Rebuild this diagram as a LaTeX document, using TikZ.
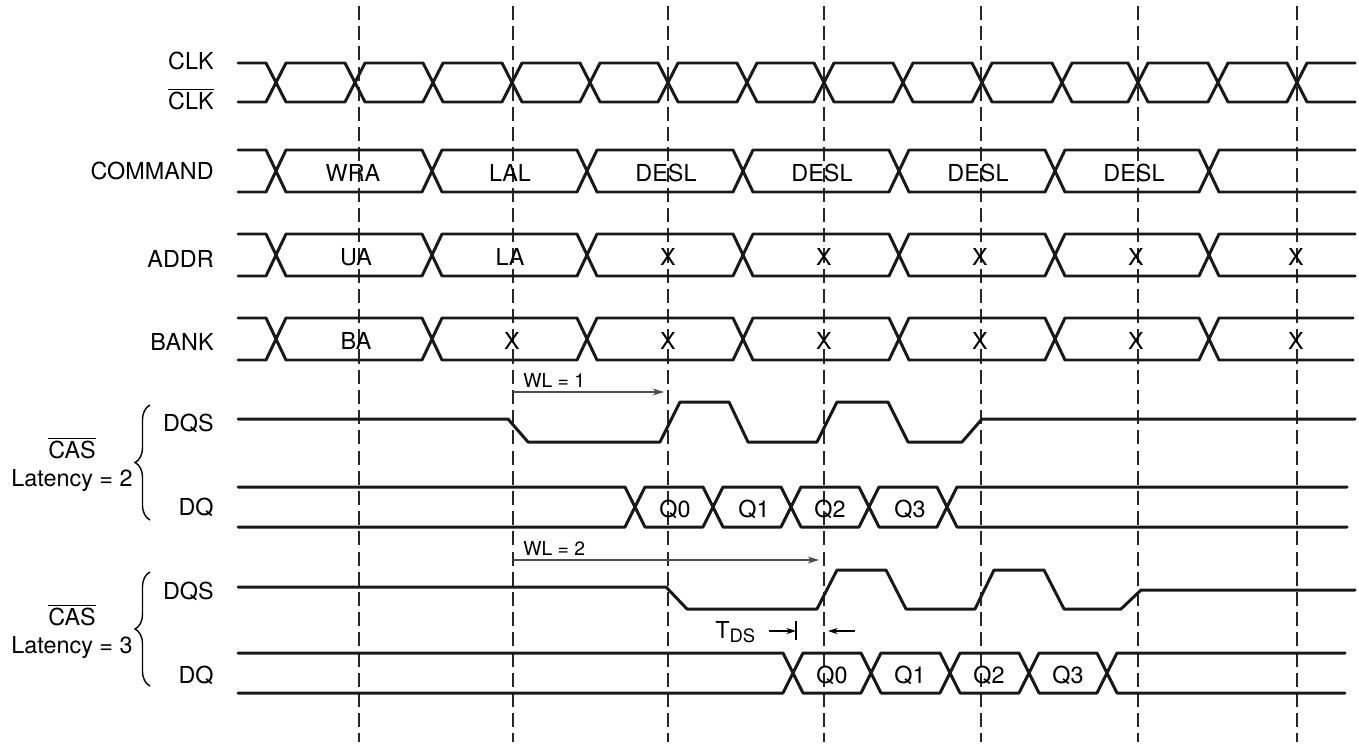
\documentclass[tikz,border=0pt]{standalone}
\usepackage{fontspec}
\setmainfont{TeX Gyre Heros}
\usetikzlibrary{arrows.meta,decorations.pathreplacing}

\tikzstyle{sig}=[line width=1.7pt, line cap=round, line join=round, black!90]
\tikzstyle{grid}=[line width=0.6pt, dash pattern=on 8pt off 3.5pt, black!85]
\tikzstyle{lbl}=[inner sep=0pt, anchor=base east, font=\fontsize{13.3}{16}\selectfont]
\tikzstyle{val}=[inner sep=0pt, anchor=base, font=\fontsize{13.3}{16}\selectfont]
\tikzstyle{wl}=[line width=0.7pt, black!70, -{Stealth[length=6.5pt,width=4pt]}]
\tikzstyle{tds}=[line width=0.7pt, -{Stealth[length=5.5pt,width=3.5pt]}]
\tikzstyle{cbrace}=[line width=0.8pt, decorate, decoration={brace,amplitude=0.3cm}]

\newcommand{\ovl}[1]{$\overline{\mbox{#1}}$}
% top, bottom, all crossings, last crossing, end
\newcommand{\sigwave}[5]{%
  \pgfmathsetmacro\ym{(#1+#2)/2}%
  \foreach \c [remember=\c as \p (initially 0)] in {#3}{%
    \ifdim\p pt=0pt
      \draw[sig] (238,#1) -- (\c-10,#1) -- (\c,\ym);
      \draw[sig] (238,#2) -- (\c-10,#2) -- (\c,\ym);
    \else
      \draw[sig] (\p,\ym) -- (\p+10,#1) -- (\c-10,#1) -- (\c,\ym);
      \draw[sig] (\p,\ym) -- (\p+10,#2) -- (\c-10,#2) -- (\c,\ym);
    \fi
  }%
  \draw[sig] (#4,\ym) -- (#4+10,#1) -- (#5,#1);
  \draw[sig] (#4,\ym) -- (#4+10,#2) -- (#5,#2);
}

\begin{document}
\begin{tikzpicture}[x=0.02cm, y=-0.02cm]
  \useasboundingbox (0,0) rectangle (1359,744);

  % clock edges
  \foreach \x in {359,513,668,824,981,1138,1297}
    \draw[grid] (\x,6) -- (\x,742);

  % signal names
  \node[lbl] (clk) at (214,69) {CLK};
  \node[lbl] (clkb) at (214,109) {\ovl{CLK}};
  \node[lbl] (cmd) at (214,179) {COMMAND};
  \node[lbl] (addr) at (214,267) {ADDR};
  \node[lbl] (bank) at (214,350) {BANK};
  \node[lbl] (dqs2) at (214,431) {DQS};
  \node[lbl] (dq2) at (214,515) {DQ};
  \node[lbl] (dqs3) at (214,599) {DQS};
  \node[lbl] (dq3) at (214,683) {DQ};
  \node[val] (cas2) at (72,458) {\ovl{CAS}};
  \node[val] (lat2) at (72,486) {Latency = 2};
  \node[val] (cas3) at (72,625) {\ovl{CAS}};
  \node[val] (lat3) at (72,653) {Latency = 3};
  \draw[cbrace] (150,520) -- (150,405);
  \draw[cbrace] (150,686) -- (150,572);

  % waveforms
  \sigwave{63}{102}{276,355,433,512,590,668,747,824,903,982,1062,1138,1218,1297}{1297}{1355}
  \sigwave{150}{192}{276,432,587,743,899,1055,1209}{1209}{1355}
  \sigwave{234}{276}{276,432,587,743,899,1055,1209}{1209}{1355}
  \sigwave{318}{360}{276,432,587,743,899,1055,1209}{1209}{1353}
  \sigwave{487}{527}{635,713,791,869,947}{947}{1347}
  \sigwave{653}{693}{793,871,950,1029,1107}{1107}{1345}

  \draw[sig] (238,419) -- (508,419) -- (528,442) -- (660,442) -- (680,402)
    -- (729,402) -- (748,442) -- (817,442) -- (837,402) -- (888,402)
    -- (908,442) -- (962,442) -- (982,419) -- (1355,419);
  \draw[sig] (238,587) -- (666,587) -- (687,609) -- (817,609) -- (837,570)
    -- (886,570) -- (906,609) -- (975,609) -- (994,570) -- (1044,570)
    -- (1064,609) -- (1121,609) -- (1141,590) -- (1355,590);

  % bus values
  \foreach \x/\t [count=\i] in {353/WRA,510/LAL,666/DESL,822/DESL,978/DESL,1134/DESL}
    \node[val] (cmd\i) at (\x,181) {\t};
  \foreach \x/\t [count=\i] in {356/UA,510/LA,668/X,824/X,980/X,1136/X,1296/X}
    \node[val] (addr\i) at (\x,265) {\t};
  \foreach \x/\t [count=\i] in {356/BA,512/X,668/X,824/X,980/X,1136/X,1296/X}
    \node[val] (bank\i) at (\x,349) {\t};
  \foreach \x/\t [count=\i] in {675/Q0,754/Q1,830/Q2,910/Q3}
    \node[val] (qa\i) at (\x,517) {\t};
  \foreach \x/\t [count=\i] in {832/Q0,910/Q1,989/Q2,1068/Q3}
    \node[val] (qb\i) at (\x,683) {\t};

  % write latency
  \node[inner sep=0pt, anchor=base west, font=\fontsize{11}{13}\selectfont] (wl1) at (523,387) {WL = 1};
  \coordinate (wl1s) at (513,392);
  \coordinate (wl1e) at (664,392);
  \draw[wl] (wl1s) -- (wl1e);
  \node[inner sep=0pt, anchor=base west, font=\fontsize{11}{13}\selectfont] (wl2) at (523,555) {WL = 2};
  \coordinate (wl2s) at (513,560);
  \coordinate (wl2e) at (819,560);
  \draw[wl] (wl2s) -- (wl2e);

  % setup time
  \node[inner sep=0pt, anchor=base west, font=\fontsize{13.3}{16}\selectfont] (tds) at (715,638)
    {T{\fontsize{10.5}{12}\selectfont\raisebox{-2.8pt}{DS}}};
  \coordinate (tdsa) at (769,631);
  \coordinate (tdsb) at (796,631);
  \coordinate (tdsc) at (855,631);
  \coordinate (tdsd) at (828,631);
  \draw[tds] (tdsa) -- (tdsb);
  \draw[line width=0.7pt] (796,621) -- (796,640);
  \draw[tds] (tdsc) -- (tdsd);
\end{tikzpicture}
\end{document}
